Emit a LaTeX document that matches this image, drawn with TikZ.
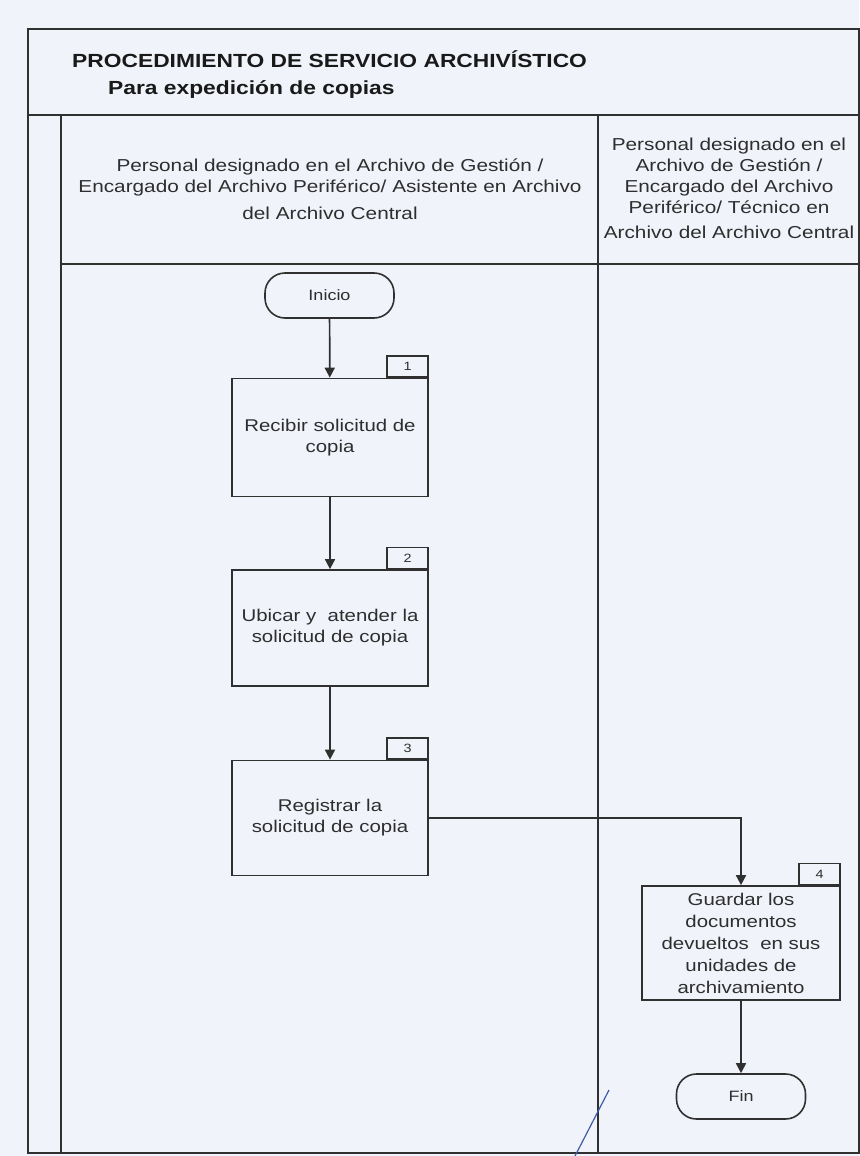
\documentclass[tikz,border=0pt]{standalone}
\usepackage{fontspec}
\setmainfont[FakeStretch=1.2]{Liberation Sans}
\usetikzlibrary{arrows.meta}
\definecolor{paper}{HTML}{F0F3FA}
\definecolor{ink}{HTML}{303030}
\definecolor{txt}{HTML}{2E2E2E}
\definecolor{pen}{HTML}{3F5BA8}
\begin{document}
\begin{tikzpicture}[x=1pt,y=-1pt,
  frame/.style={draw=ink,line width=2pt},
  stepbox/.style={draw=ink,line width=1.7pt,minimum width=196pt,minimum height=118pt,
    inner sep=0pt,align=center,font=\fontsize{17}{21}\selectfont,text=txt},
  terminal/.style={draw=ink,line width=1.6pt,rounded corners=20pt,minimum width=129pt,
    minimum height=45pt,inner sep=0pt,font=\fontsize{15}{18}\selectfont,text=txt},
  tag/.style={draw=ink,line width=1.4pt,minimum width=41pt,minimum height=21pt,
    inner sep=0pt,font=\fontsize{12}{12}\selectfont,text=txt},
  flow/.style={draw=ink,line width=1.7pt,-{Triangle[length=10pt,width=10pt]}},
  lanehead/.style={align=center,font=\fontsize{17.3}{21}\selectfont,text=txt,inner sep=0pt},
  heading/.style={anchor=west,inner sep=0pt,text=black!90,font=\bfseries\fontsize{19}{22}\selectfont},
]
\useasboundingbox (0,0) rectangle (859,1156);
\fill[paper] (0,0) rectangle (859,1156);

% sheet frame and swimlane grid
\draw[frame] (28,29) rectangle (859,1153);
\draw[frame] (28,115) -- (859,115);
\draw[frame] (61,115) -- (61,1153);
\draw[frame] (61,264) -- (859,264);
\draw[frame] (598,115) -- (598,1153);

% headings
\node[heading] (title) at (72,59) {PROCEDIMIENTO DE SERVICIO ARCHIVÍSTICO};
\node[heading] (subtitle) at (108,90) {Para expedición de copias};

% lane headers
\node[lanehead] (lane1) at (330,189) {Personal designado en el Archivo de Gestión /\\
  Encargado del Archivo Periférico/ Asistente en Archivo\\[6pt]del Archivo Central};
\node[lanehead] (lane2) at (729,188) {Personal designado en el\\Archivo de Gestión /\\
  Encargado del Archivo\\Periférico/ Técnico en\\[4pt]Archivo del Archivo Central};

% flow
\node[terminal] (start) at (329.5,295.5) {Inicio};
\node[stepbox] (s1) at (330,437.5) {Recibir solicitud de\\copia};
\node[stepbox,minimum height=116pt] (s2) at (330,628) {Ubicar y\ \ atender la\\solicitud de copia};
\node[stepbox,minimum height=115pt] (s3) at (330,818) {Registrar la\\solicitud de copia};
\node[stepbox,minimum width=198pt,minimum height=114pt,font=\fontsize{17}{22}\selectfont] (s4) at (741,943)
  {Guardar los\\documentos\\devueltos\ \ en sus\\unidades de\\archivamiento};
\node[terminal] (end) at (741,1096.5) {Fin};

\node[tag,anchor=south east] (t1) at (s1.north east) {1};
\node[tag,anchor=south east] (t2) at (s2.north east) {2};
\node[tag,anchor=south east] (t3) at (s3.north east) {3};
\node[tag,anchor=south east] (t4) at (s4.north east) {4};

\draw[flow] (start) -- (s1);
\draw[flow] (s1) -- (s2);
\draw[flow] (s2) -- (s3);
\draw[flow] (s3.east) -| (s4.north);
\draw[flow] (s4) -- (end);

% pen stroke across the lower edge
\draw[pen,line width=1.2pt] (609,1090) -- (574,1158);
\end{tikzpicture}
\end{document}
